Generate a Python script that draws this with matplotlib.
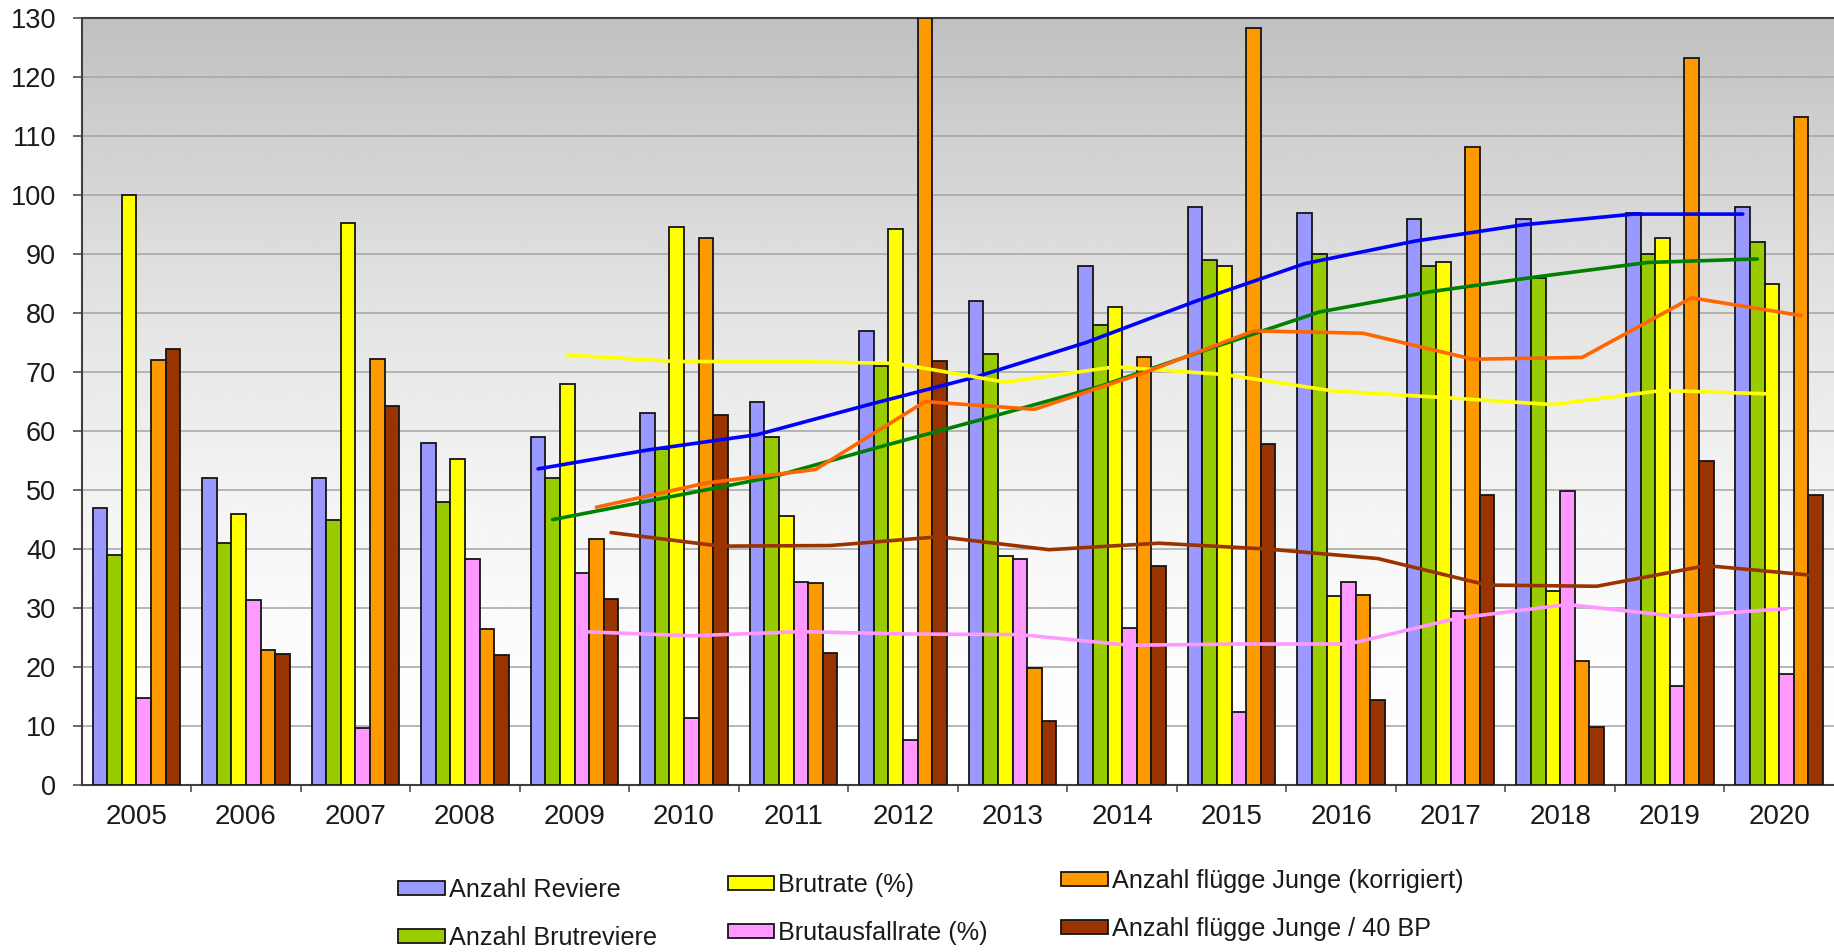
import numpy as np
import matplotlib.pyplot as plt

plt.rcParams['font.family'] = ['Liberation Sans', 'DejaVu Sans']

# Jahreswerte
jahre = ['2005', '2006', '2007', '2008', '2009', '2010', '2011', '2012',
         '2013', '2014', '2015', '2016', '2017', '2018', '2019', '2020']
reviere = [47, 52, 52, 58, 59, 63, 65, 77, 82, 88, 98, 97, 96, 96, 97, 98]
brutreviere = [39, 41, 45, 48, 52, 57, 59, 71, 73, 78, 89, 90, 88, 86, 90, 92]
brutrate = [100, 46, 95.3, 55.3, 68, 94.6, 45.6, 94.2, 38.9, 81.1, 88, 32, 88.7, 32.9, 92.7, 85]
ausfallrate = [14.7, 31.3, 9.7, 38.4, 36, 11.3, 34.5, 7.6, 38.3, 26.6, 12.4, 34.5, 29.5, 49.9, 16.8, 18.8]
junge = [72.1, 22.9, 72.3, 26.5, 41.7, 92.7, 34.2, 130, 19.9, 72.5, 128.4, 32.3, 108.1, 21, 123.3, 113.2]
junge_40bp = [73.9, 22.2, 64.2, 22, 31.5, 62.8, 22.4, 71.9, 10.8, 37.2, 57.8, 14.4, 49.2, 9.8, 54.9, 49.2]

# gleitende Durchschnitte (5 Jahre), ab 2009
trend_start = 4
reviere_trend = [53.6, 56.8, 59.4, 64.4, 69.2, 75, 82, 88.4, 92.2, 95, 96.8, 96.8]
brutreviere_trend = [45, 48.6, 52.2, 57.4, 62.4, 67.6, 74, 80.2, 83.6, 86.2, 88.6, 89.2]
brutrate_trend = [72.9, 71.8, 71.8, 71.5, 68.3, 70.9, 69.6, 66.8, 65.7, 64.5, 66.9, 66.3]
ausfallrate_trend = [26, 25.3, 26, 25.6, 25.5, 23.7, 23.9, 23.9, 28.3, 30.6, 28.6, 29.9]
junge_trend = [47.1, 51.2, 53.5, 65, 63.7, 69.9, 77, 76.6, 72.2, 72.5, 82.6, 79.6]
junge_40bp_trend = [42.8, 40.5, 40.6, 42.1, 39.9, 41, 40, 38.4, 33.9, 33.7, 37.2, 35.5]

serien = [
    ('Anzahl Reviere', reviere, reviere_trend, '#9999ff', '#0000ff'),
    ('Anzahl Brutreviere', brutreviere, brutreviere_trend, '#99cc00', '#008000'),
    ('Brutrate (%)', brutrate, brutrate_trend, '#ffff00', '#ffff00'),
    ('Brutausfallrate (%)', ausfallrate, ausfallrate_trend, '#ff99ff', '#ff99ff'),
    ('Anzahl flügge Junge (korrigiert)', junge, junge_trend, '#ff9900', '#ff6600'),
    ('Anzahl flügge Junge / 40 BP', junge_40bp, junge_40bp_trend, '#993300', '#993300'),
]

W, H = 1834, 952
fig = plt.figure(figsize=(W / 100, H / 100), dpi=100)
ax = fig.add_axes([81.7 / W, 1 - 785 / H, (W - 81.7) / W, (785 - 18.3) / H])

n = len(jahre)
x = np.arange(n)
ymax = 130

# Hintergrund: grau oben, weiss unten
t = np.linspace(0, 1, 256)[:, None]
grad = 1 - (63 / 255) * t ** 1.7
ax.imshow(grad, extent=[-0.5, n - 0.5, 0, ymax], aspect='auto', origin='lower',
          cmap='gray', vmin=0, vmax=1, zorder=0)

breite = 0.1333
handles = []
for k, (name, werte, trend, farbe, linienfarbe) in enumerate(serien):
    off = (k - 2.5) * breite
    b = ax.bar(x + off, werte, width=breite, color=farbe, edgecolor='#151515',
               linewidth=1.3, zorder=3, label=name)
    handles.append(b)

for k, (name, werte, trend, farbe, linienfarbe) in enumerate(serien):
    off = (k - 2.5) * breite
    xt = x[trend_start:trend_start + len(trend)] + off
    ax.plot(xt, trend, color=linienfarbe, linewidth=2.6, zorder=5,
            solid_capstyle='round', solid_joinstyle='round')

ax.set_xlim(-0.5, n - 0.5)
ax.set_ylim(0, ymax)
ax.set_yticks(np.arange(0, ymax + 1, 10))
ax.yaxis.grid(True, color='#a4a4a4', linewidth=1.1, zorder=1)
ax.set_axisbelow(True)

ax.set_xticks(x)
ax.set_xticklabels(jahre)
ax.set_xticks(np.arange(0.5, n - 0.5, 1), minor=True)
ax.tick_params(axis='x', which='major', length=0, pad=14, labelsize=20, labelcolor='#1a1a1a')
ax.tick_params(axis='x', which='minor', length=5, width=1.1, color='#404040')
ax.tick_params(axis='y', length=6.5, width=1.1, color='#404040', pad=12,
               labelsize=19.5, labelcolor='#1a1a1a')

for s in ['left', 'bottom', 'top']:
    ax.spines[s].set_color('#404040')
    ax.spines[s].set_linewidth(1.5)
ax.spines['right'].set_visible(False)

# Legende in drei Spalten
spalten = [(398 / W, 1 - 914 / H), (727.5 / W, 1 - 909 / H), (1061 / W, 1 - 905 / H)]
for i, (lx, ly) in enumerate(spalten):
    hs = handles[2 * i:2 * i + 2]
    fig.legend(hs, [h.get_label() for h in hs], loc='center left',
               bbox_to_anchor=(lx, ly), frameon=False, borderpad=0,
               borderaxespad=0, fontsize=18.2, handlelength=1.84,
               handleheight=0.5, handletextpad=0.16, labelspacing=0.95,
               labelcolor='#1a1a1a')

fig.savefig('out.png', dpi=100)
